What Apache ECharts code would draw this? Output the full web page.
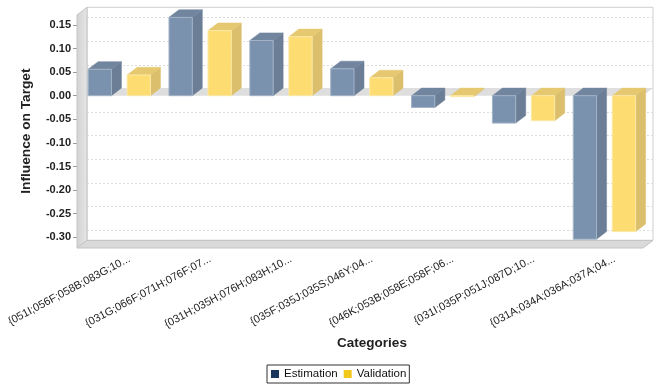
<!DOCTYPE html>
<html>
<head>
<meta charset="utf-8">
<script src="https://cdn.jsdelivr.net/npm/echarts@6/dist/echarts.min.js"></script>
<style>
html,body{margin:0;padding:0;background:#fff;}
#chart{width:655px;height:385px;}
</style>
</head>
<body>
<div id="chart"></div>
<script>
// ---- data ----
const categories = [
  "{051I;056F;058B;083G;10...",
  "{031G;066F;071H;076F;07...",
  "{031H;035H;076H;083H;10...",
  "{035F;035J;035S;046Y;04...",
  "{046K;053B;058E;058F;06...",
  "{031I;035P;051J;087D;10...",
  "{031A;034A;036A;037A;04..."
];
const estimation = [0.056, 0.166, 0.117, 0.057, -0.025, -0.058, -0.304];
const validation = [0.044, 0.138, 0.125, 0.038, -0.002, -0.053, -0.288];
const yTicks = [-0.30, -0.25, -0.20, -0.15, -0.10, -0.05, 0.00, 0.05, 0.10, 0.15];

// ---- style / geometry constants ----
const FONT = "'Liberation Sans', Arial, sans-serif";
const SHIFT = 12;      // labels sit right of the bar group
const DX = 10, DY = 7.6; // 3D depth offset
const BAR_W = 23.3;
const EST_OFF = -29.3, VAL_OFF = 9.7;
const WALL_TOP_PAD = 10, WALL_BOT_PAD = 10.7;

function barRenderer(off, cFront, cSide, cTop, cEdge) {
  return function (params, api) {
    const c = api.value(0), v = api.value(1);
    const p0 = api.coord([c, 0]);
    const p1 = api.coord([c, v]);
    const x0 = p0[0] - SHIFT + off;
    const x1 = x0 + BAR_W;
    const yt = Math.min(p0[1], p1[1]);
    const yb = Math.max(p0[1], p1[1]);
    return {
      type: 'group',
      children: [
        { type: 'polygon', shape: { points: [[x1, yt], [x1 + DX, yt - DY], [x1 + DX, yb - DY], [x1, yb]] },
          style: { fill: cSide, stroke: cSide, lineWidth: 0.5 } },
        { type: 'polygon', shape: { points: [[x0, yt], [x0 + DX, yt - DY], [x1 + DX, yt - DY], [x1, yt]] },
          style: { fill: cTop, stroke: cTop, lineWidth: 0.5 } },
        { type: 'rect', shape: { x: x0, y: yt, width: BAR_W, height: Math.max(yb - yt, 0.5) },
          style: { fill: cFront, stroke: cEdge, lineWidth: 1 } }
      ]
    };
  };
}

function frameRenderer(params, api) {
  const bw = api.size([1, 0])[0];
  const cx0 = api.coord([0, 0])[0];
  const XL = cx0 - bw / 2 - SHIFT;
  const XR = XL + categories.length * bw;
  const yTop = api.coord([0, yTicks[yTicks.length - 1]])[1] - WALL_TOP_PAD;
  const yBot = api.coord([0, yTicks[0]])[1] + WALL_BOT_PAD;
  const y0 = api.coord([0, 0])[1];
  const children = [];
  // back wall
  children.push({ type: 'rect', shape: { x: XL + DX, y: yTop - DY, width: XR - XL, height: yBot - yTop },
    style: { fill: '#ffffff', stroke: '#cfcfcf', lineWidth: 1 } });
  // gridlines on back wall
  yTicks.forEach(function (t) {
    const y = Math.round(api.coord([0, t])[1] - DY) + 0.5;
    children.push({ type: 'line', shape: { x1: XL + DX, y1: y, x2: XR + DX, y2: y },
      style: { stroke: '#dcdcdc', lineWidth: 1, lineDash: [2, 2] } });
  });
  // zero plane
  children.push({ type: 'polygon', shape: { points: [[XL, y0], [XR, y0], [XR + DX, y0 - DY], [XL + DX, y0 - DY]] },
    style: { fill: '#dedede' } });
  // left wall
  children.push({ type: 'polygon', shape: { points: [[XL, yTop], [XL + DX, yTop - DY], [XL + DX, yBot - DY], [XL, yBot]] },
    style: { fill: new echarts.graphic.LinearGradient(0, 0, 1, 0, [{ offset: 0, color: '#d2d2d2' }, { offset: 1, color: '#e6e6e6' }]),
      stroke: '#c4c4c4', lineWidth: 1 } });
  // floor
  children.push({ type: 'polygon', shape: { points: [[XL, yBot], [XR, yBot], [XR + DX, yBot - DY], [XL + DX, yBot - DY]] },
    style: { fill: '#dadada', stroke: '#c4c4c4', lineWidth: 1 } });
  return { type: 'group', children: children };
}

const chart = echarts.init(document.getElementById('chart'), null, { renderer: 'canvas' });
chart.setOption({
  animation: false,
  backgroundColor: '#ffffff',
  textStyle: { fontFamily: FONT },
  grid: { left: 77 + SHIFT, width: 568, top: 24.9, height: 212.4, containLabel: false },
  legend: {
    data: ['Estimation', 'Validation'],
    left: 267, top: 365,
    icon: 'rect', itemWidth: 8, itemHeight: 8, itemGap: 6,
    padding: [3, 3, 3, 4],
    borderColor: '#333', borderWidth: 1,
    textStyle: { fontFamily: FONT, fontSize: 11.5, color: '#111' }
  },
  xAxis: {
    type: 'category',
    data: categories,
    name: 'Categories',
    nameLocation: 'middle',
    nameGap: 99,
    nameTextStyle: { fontFamily: FONT, fontSize: 13.5, fontWeight: 'bold', color: '#222' },
    axisLine: { show: false },
    axisTick: { show: false },
    splitLine: { show: false },
    axisLabel: { interval: 0, rotate: 28, margin: 21, fontFamily: FONT, fontSize: 11, color: '#222', hideOverlap: false }
  },
  yAxis: {
    type: 'value',
    min: -0.30, max: 0.15, interval: 0.05,
    offset: SHIFT,
    name: 'Influence on Target',
    nameLocation: 'middle',
    nameRotate: 90,
    nameGap: 44,
    nameTextStyle: { fontFamily: FONT, fontSize: 13.7, fontWeight: 'bold', color: '#222' },
    axisLine: { show: false },
    axisTick: { show: true, length: 4, lineStyle: { color: '#999' } },
    splitLine: { show: false },
    axisLabel: { margin: 6, fontFamily: FONT, fontSize: 11, fontWeight: 'bold', color: '#222',
      formatter: function (v) { return v.toFixed(2); } }
  },
  series: [
    { type: 'custom', name: 'frame', z: 1, silent: true, data: [[0, 0]], renderItem: frameRenderer },
    { type: 'custom', name: 'Estimation', z: 2,
      itemStyle: { color: '#1b365d' },
      data: estimation.map(function (v, i) { return [i, v]; }),
      renderItem: barRenderer(EST_OFF, '#7a92ad', '#6b7e96', '#71859e', '#a3b4c8') },
    { type: 'custom', name: 'Validation', z: 2,
      itemStyle: { color: '#f3c81c' },
      data: validation.map(function (v, i) { return [i, v]; }),
      renderItem: barRenderer(VAL_OFF, '#fddc72', '#dbbf6c', '#e5c870', '#fbe9a8') }
  ]
});
</script>
</body>
</html>
